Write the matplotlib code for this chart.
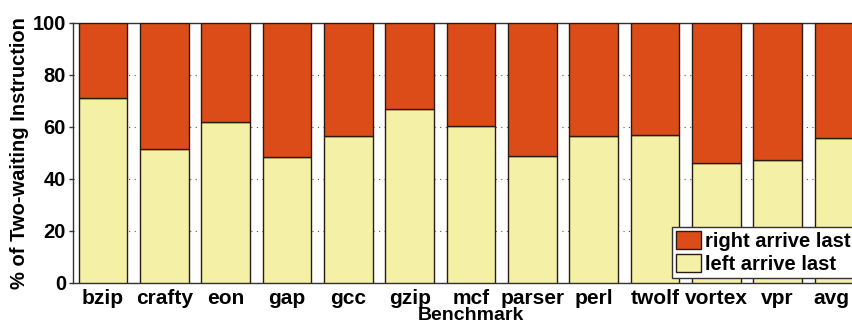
import matplotlib
matplotlib.use("Agg")
import matplotlib.pyplot as plt
import matplotlib.transforms as mtransforms
import numpy as np

benchmarks = ["bzip", "crafty", "eon", "gap", "gcc", "gzip", "mcf", "parser",
              "perl", "twolf", "vortex", "vpr", "avg"]
left_last = [71.3, 51.5, 62.0, 48.6, 56.7, 66.8, 60.5, 48.8, 56.4, 56.9, 46.0, 47.3, 55.9]
right_last = [100 - v for v in left_last]
yticks = [0, 20, 40, 60, 80, 100]

plt.rcParams['font.family'] = ['Liberation Sans', 'DejaVu Sans']
plt.rcParams['font.weight'] = 'bold'

fig = plt.figure(figsize=(8.53, 3.25), dpi=100)
x0, x1 = 73 / 853, 869 / 853
y0, y1 = 1 - 283 / 325, 1 - 23 / 325
ax = fig.add_axes([x0, y0, x1 - x0, y1 - y0])

x = np.arange(len(benchmarks))
w = 0.79
orange = "#DC4C18"
yellow = "#F4F0A6"
edge = "#2a1a10"
ax.bar(x, left_last, w, color=yellow, edgecolor=edge, linewidth=1.0,
       label="left arrive last", zorder=3)
ax.bar(x, right_last, w, bottom=left_last, color=orange, edgecolor=edge,
       linewidth=1.0, label="right arrive last", zorder=3)

ax.set_xlim(-0.49, len(benchmarks) - 0.51)
ax.set_ylim(0, 100)
ax.set_yticks(yticks)
ax.set_yticklabels([str(t) for t in yticks], fontsize=14.5, fontweight='bold')
ax.set_xticks(x)
ax.set_xticklabels(benchmarks, fontsize=15, fontweight='bold')
ax.tick_params(axis='x', length=0, pad=4)
ax.tick_params(axis='y', length=3, width=1, pad=2, color="#333333")
# nudge the last label so it stays inside the picture
last = ax.get_xticklabels()[-1]
last.set_transform(last.get_transform() +
                   mtransforms.ScaledTranslation(-8 / 100, 0, fig.dpi_scale_trans))
ax.yaxis.grid(True, linestyle=(0, (1, 4)), color="#555555", linewidth=0.8, zorder=0)
ax.set_axisbelow(True)
ax.set_ylabel("% of Two-waiting Instruction", fontsize=14.5, fontweight='bold', labelpad=3)
ax.set_xlabel("Benchmark", fontsize=14, fontweight='bold')
ax.xaxis.set_label_coords(0.5, -(307 - 283) / 260)
for s in ax.spines.values():
    s.set_linewidth(1.0)
    s.set_color("#333333")

handles, labels = ax.get_legend_handles_labels()
leg = ax.legend(handles[::-1], labels[::-1], loc='lower left',
                bbox_to_anchor=((672 - 73) / 796, 5 / 260), borderaxespad=0,
                prop={'size': 14.5, 'weight': 'bold'}, fancybox=False,
                framealpha=1, edgecolor="#333333", handlelength=1.25,
                handleheight=1.0, handletextpad=0.2, borderpad=0.2,
                labelspacing=0.15)
leg.set_zorder(5)

fig.savefig("out.png", dpi=100)
